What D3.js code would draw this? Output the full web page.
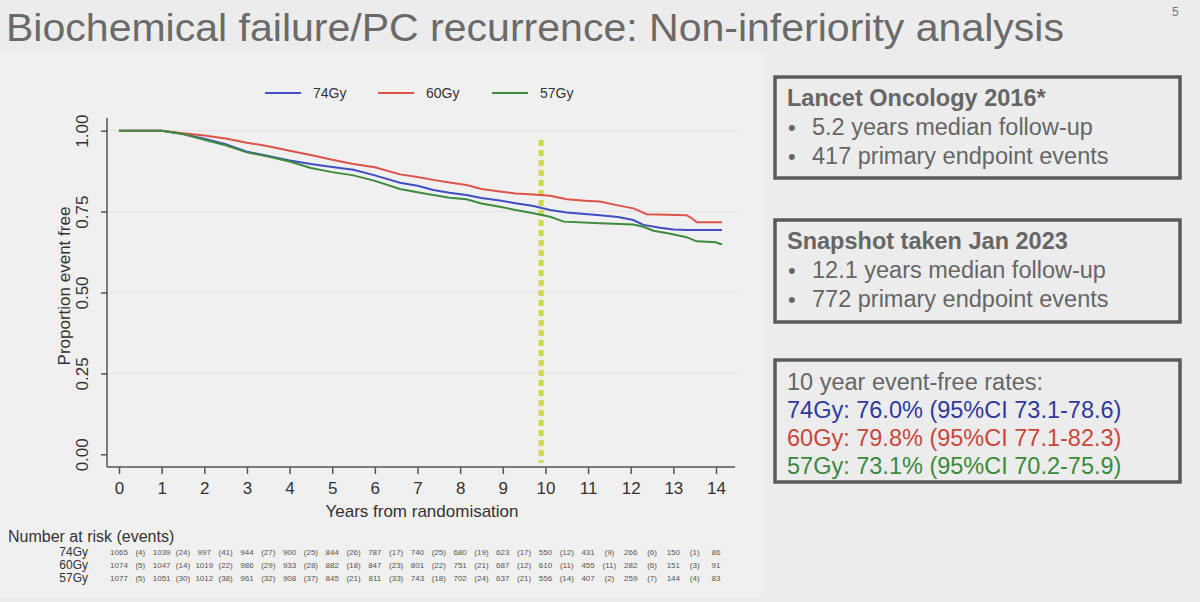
<!DOCTYPE html>
<html>
<head>
<meta charset="utf-8">
<script src="https://cdn.jsdelivr.net/npm/d3@7"></script>
<style>
  html, body { margin: 0; padding: 0; background: #ececec; }
  svg { display: block; font-family: "Liberation Sans", Arial, sans-serif; }
</style>
</head>
<body>
<script>
// KM curves: [years, proportion event free]
const arms = ["74Gy", "60Gy", "57Gy"];
const armColors = ["#3f4fc2", "#dc5349", "#3d8b3d"];
const curve74 = [[0,1],[1,1],[1.5,0.99],[2,0.975],[2.5,0.958],[3,0.935],[3.5,0.922],[4,0.908],[4.5,0.897],[5,0.888],[5.5,0.879],[6,0.862],[6.59,0.839],[7,0.83],[7.37,0.817],[7.75,0.808],[8.15,0.801],[8.5,0.792],[8.93,0.784],[9.3,0.776],[9.72,0.767],[10.11,0.755],[10.5,0.747],[11.28,0.739],[11.7,0.733],[12.06,0.724],[12.3,0.709],[12.69,0.7],[13,0.695],[13.31,0.693],[14.14,0.693]];
const curve60 = [[0,1],[1,1],[1.5,0.992],[2,0.985],[2.5,0.976],[3,0.963],[3.5,0.952],[4,0.938],[4.5,0.925],[5,0.91],[5.5,0.897],[6,0.887],[6.59,0.865],[7,0.857],[7.37,0.848],[7.75,0.84],[8.15,0.832],[8.5,0.82],[8.93,0.812],[9.3,0.806],[9.72,0.803],[10.11,0.799],[10.5,0.788],[11,0.783],[11.28,0.781],[11.67,0.77],[12.06,0.76],[12.2,0.752],[12.37,0.742],[13.31,0.739],[13.45,0.728],[13.55,0.717],[14.14,0.717]];
const curve57 = [[0,1],[1,1],[1.5,0.99],[2,0.972],[2.5,0.955],[3,0.933],[3.5,0.92],[4,0.905],[4.5,0.885],[5,0.872],[5.5,0.862],[6,0.845],[6.59,0.82],[7,0.81],[7.37,0.801],[7.75,0.793],[8.15,0.788],[8.5,0.775],[8.93,0.765],[9.3,0.755],[9.72,0.745],[10.11,0.734],[10.43,0.719],[11.28,0.714],[12.06,0.71],[12.3,0.703],[12.53,0.691],[12.9,0.682],[13.31,0.671],[13.55,0.658],[14,0.655],[14.1,0.65],[14.14,0.65]];
const curves = [curve74, curve60, curve57];

const xTicks = d3.range(0, 15);
const yTicks = [0, 0.25, 0.5, 0.75, 1];
const refYear = 9.9;

// number at risk (events)
const atRisk74 = [1065, 1039, 997, 944, 900, 844, 787, 740, 680, 623, 550, 431, 266, 150, 86];
const events74 = [4, 24, 41, 27, 25, 26, 17, 25, 19, 17, 12, 9, 6, 1];
const atRisk60 = [1074, 1047, 1019, 986, 933, 882, 847, 801, 751, 687, 610, 455, 282, 151, 91];
const events60 = [5, 14, 22, 29, 28, 18, 23, 22, 21, 12, 11, 11, 6, 3];
const atRisk57 = [1077, 1051, 1012, 961, 908, 845, 811, 743, 702, 637, 556, 407, 259, 144, 83];
const events57 = [5, 30, 38, 32, 37, 21, 33, 18, 24, 21, 14, 2, 7, 4];
const atRisk = [atRisk74, atRisk60, atRisk57];
const events = [events74, events60, events57];

const box1 = ["Lancet Oncology 2016*", "5.2 years median follow-up", "417 primary endpoint events"];
const box2 = ["Snapshot taken Jan 2023", "12.1 years median follow-up", "772 primary endpoint events"];
const box3 = ["10 year event-free rates:", "74Gy: 76.0% (95%CI 73.1-78.6)", "60Gy: 79.8% (95%CI 77.1-82.3)", "57Gy: 73.1% (95%CI 70.2-75.9)"];
const box3Colors = ["#666666", "#2f3a9c", "#c9463d", "#3a8a3a"];

const W = 1200, H = 602;

const svg = d3.select("body").append("svg")
    .attr("width", W)
    .attr("height", H);

svg.append("rect").attr("width", W).attr("height", H).attr("fill", "#ececec");
// faint chart panel
svg.append("rect").attr("x", 0).attr("y", 52).attr("width", 765).attr("height", 545).attr("fill", "#f0f0f0");

// title
svg.append("text")
    .attr("x", 6).attr("y", 41)
    .attr("font-size", 38)
    .attr("font-family", "'Liberation Sans Narrow', 'Liberation Sans', Arial, sans-serif")
    .attr("fill", "#6a6a6a")
    .attr("textLength", 1058)
    .attr("lengthAdjust", "spacingAndGlyphs")
    .text("Biochemical failure/PC recurrence: Non-inferiority analysis");

svg.append("text")
    .attr("x", 1172).attr("y", 16)
    .attr("font-size", 12)
    .attr("fill", "#777")
    .text("5");

// scales
const x = d3.scaleLinear().domain([0, 14]).range([119, 716]);
const y = d3.scaleLinear().domain([0, 1]).range([454.3, 130.7]);
const xMin = x.invert(107), xMax = x.invert(735);
const yMin = y.invert(467), yMax = y.invert(118);

const plot = svg.append("g");

// gridlines
plot.selectAll(".grid")
    .data(yTicks.filter(d => d > 0))
    .enter()
    .append("line")
    .attr("x1", x(xMin)).attr("x2", 737)
    .attr("y1", d => y(d)).attr("y2", d => y(d))
    .attr("stroke", "#e2e2e2")
    .attr("stroke-width", 1);

// x axis
const xAxis = plot.append("g")
    .attr("transform", "translate(0," + y(yMin) + ")")
    .call(d3.axisBottom(x).tickValues(xTicks).tickSize(7).tickSizeOuter(0).tickPadding(8));
xAxis.select(".domain").attr("d", "M" + x(xMin) + ",0H" + x(xMax)).attr("stroke", "#555").attr("stroke-width", 1.5);
xAxis.selectAll(".tick line").attr("stroke", "#555").attr("stroke-width", 1.5);
xAxis.selectAll(".tick text").attr("font-size", 17).attr("fill", "#333").attr("font-family", "Liberation Sans, Arial, sans-serif");

// y axis
const yAxis = plot.append("g")
    .attr("transform", "translate(" + x(xMin) + ",0)")
    .call(d3.axisLeft(y).tickValues(yTicks).tickSize(6).tickSizeOuter(0).tickFormat(d3.format(".2f")));
yAxis.select(".domain").attr("d", "M0," + y(yMax) + "V" + y(yMin)).attr("stroke", "#555").attr("stroke-width", 1.5);
yAxis.selectAll(".tick line").attr("stroke", "#555").attr("stroke-width", 1.5);
yAxis.selectAll(".tick text")
    .attr("font-size", 17).attr("fill", "#333")
    .attr("font-family", "Liberation Sans, Arial, sans-serif")
    .attr("x", null).attr("dy", null)
    .attr("text-anchor", "middle")
    .attr("transform", "translate(-19,0) rotate(-90)")
    .attr("y", 0);

plot.append("text")
    .attr("transform", "translate(70," + y(0.52) + ") rotate(-90)")
    .attr("text-anchor", "middle")
    .attr("font-size", 17).attr("fill", "#333")
    .text("Proportion event free");

plot.append("text")
    .attr("x", (x(xMin) + 737) / 2).attr("y", 517)
    .attr("text-anchor", "middle")
    .attr("font-size", 17).attr("fill", "#333")
    .text("Years from randomisation");

// 10 year reference line
plot.append("line")
    .attr("x1", x(refYear)).attr("x2", x(refYear))
    .attr("y1", 140).attr("y2", 463)
    .attr("stroke", "#d2d84a")
    .attr("stroke-width", 5)
    .attr("stroke-dasharray", "6,4");

// curves
const line = d3.line().x(d => x(d[0])).y(d => y(d[1]));
plot.selectAll(".km")
    .data(curves)
    .enter()
    .append("path")
    .attr("d", line)
    .attr("fill", "none")
    .attr("stroke", (d, i) => armColors[i])
    .attr("stroke-width", 2);

// legend
const legendX = [265, 378, 492];
const legend = svg.selectAll(".legend")
    .data(arms)
    .enter()
    .append("g")
    .attr("transform", (d, i) => "translate(" + legendX[i] + ",93)");
legend.append("line")
    .attr("x1", 0).attr("x2", 36)
    .attr("stroke", (d, i) => armColors[i])
    .attr("stroke-width", 2);
legend.append("text")
    .attr("x", 48).attr("y", 5)
    .attr("font-size", 14).attr("fill", "#333")
    .text(d => d);

// number at risk table
svg.append("text")
    .attr("x", 8).attr("y", 542)
    .attr("font-size", 16).attr("fill", "#333")
    .text("Number at risk (events)");

const rowY = [556, 569, 582];
arms.forEach((arm, r) => {
    svg.append("text")
        .attr("x", 88).attr("y", rowY[r])
        .attr("text-anchor", "end")
        .attr("font-size", 12).attr("fill", "#333")
        .text(arm);
    svg.selectAll(".risk" + r)
        .data(atRisk[r])
        .enter()
        .append("text")
        .attr("x", (d, i) => x(xTicks[i]))
        .attr("y", rowY[r] - 1)
        .attr("text-anchor", "middle")
        .attr("font-size", 8).attr("fill", "#555")
        .text(d => d);
    svg.selectAll(".ev" + r)
        .data(events[r])
        .enter()
        .append("text")
        .attr("x", (d, i) => x(xTicks[i] + 0.5))
        .attr("y", rowY[r] - 1)
        .attr("text-anchor", "middle")
        .attr("font-size", 8).attr("fill", "#555")
        .text(d => "(" + d + ")");
});

// info boxes
function infoBox(top, height, lines) {
    const g = svg.append("g");
    g.append("rect")
        .attr("x", 775).attr("y", top)
        .attr("width", 405).attr("height", height)
        .attr("fill", "none")
        .attr("stroke", "#5a5a5a")
        .attr("stroke-width", 3.5);
    g.append("text")
        .attr("x", 787).attr("y", top + 29)
        .attr("font-size", 23.5).attr("font-weight", "bold").attr("fill", "#666")
        .text(lines[0]);
    lines.slice(1).forEach((t, i) => {
        g.append("text")
            .attr("x", 788).attr("y", top + 58 + i * 29)
            .attr("font-size", 22).attr("fill", "#666")
            .text("\u2022");
        g.append("text")
            .attr("x", 812).attr("y", top + 58 + i * 29)
            .attr("font-size", 23.5).attr("fill", "#666")
            .text(t);
    });
}
infoBox(77, 101, box1);
infoBox(220, 102, box2);

svg.append("rect")
    .attr("x", 775).attr("y", 360)
    .attr("width", 405).attr("height", 122)
    .attr("fill", "none")
    .attr("stroke", "#5a5a5a")
    .attr("stroke-width", 3.5);
svg.selectAll(".rate")
    .data(box3)
    .enter()
    .append("text")
    .attr("x", 787)
    .attr("y", (d, i) => 390 + i * 28)
    .attr("font-size", 23.5)
    .attr("fill", (d, i) => box3Colors[i])
    .text(d => d);
</script>
</body>
</html>
